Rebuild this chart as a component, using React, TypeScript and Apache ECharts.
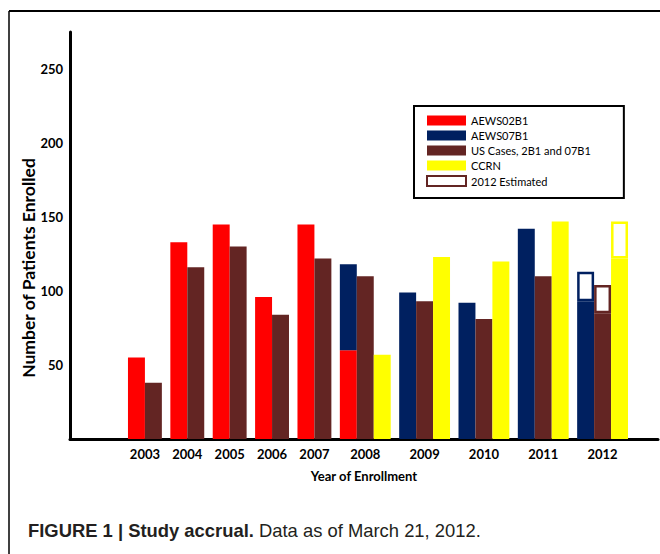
import React, { useEffect, useRef } from 'react';
import * as echarts from 'echarts';

const years = ['2003', '2004', '2005', '2006', '2007', '2008', '2009', '2010', '2011', '2012'];
const aews02b1 = [55, 133, 145, 96, 145, 60, null, null, null, null];
const aews07b1 = [null, null, null, null, null, 58, 99, 92, 142, 93];
const usCases = [38, 116, 130, 84, 122, 110, 93, 81, 110, 85];
const ccrn = [null, null, null, null, null, 57, 123, 120, 147, 122];
const estAews07b1 = [null, null, null, null, null, null, null, null, null, 20];
const estUsCases = [null, null, null, null, null, null, null, null, null, 19];
const estCcrn = [null, null, null, null, null, null, null, null, null, 25];
const yTicks = [50, 100, 150, 200, 250];

const RED = '#ff0000';
const NAVY = '#002060';
const BROWN = '#632523';
const YELLOW = '#ffff00';
const FONT = 'Lato, "Open Sans", sans-serif';

export default function App() {
  const ref = useRef<HTMLDivElement>(null);
  useEffect(() => {
    document.body.style.margin = '0';
    const chart = echarts.init(ref.current!, null, { renderer: 'svg' });

    // group layout derived from number of bars per year
    const starts: number[] = [];
    const centers: number[] = [];
    let cursor = 0;
    years.forEach((_, i) => {
      const slots = ccrn[i] != null ? 3 : 2;
      starts.push(cursor);
      centers.push(cursor + slots / 2);
      cursor += slots + 0.5;
    });

    const d02: any[] = [];
    const d07: any[] = [];
    const dUs: any[] = [];
    const dCc: any[] = [];
    const dEst: any[] = [];
    years.forEach((_, i) => {
      const s = starts[i];
      let base = 0;
      if (aews02b1[i] != null) {
        d02.push([s, 0, aews02b1[i]]);
        base = aews02b1[i] as number;
      }
      if (aews07b1[i] != null) {
        d07.push([s, base, base + (aews07b1[i] as number)]);
        if (estAews07b1[i] != null) {
          const t = base + (aews07b1[i] as number);
          dEst.push([s, t, t + (estAews07b1[i] as number), 0]);
        }
      }
      dUs.push([s + 1, 0, usCases[i]]);
      if (estUsCases[i] != null) dEst.push([s + 1, usCases[i], usCases[i] + (estUsCases[i] as number), 1]);
      if (ccrn[i] != null) {
        dCc.push([s + 2, 0, ccrn[i]]);
        if (estCcrn[i] != null) dEst.push([s + 2, ccrn[i], (ccrn[i] as number) + (estCcrn[i] as number), 2]);
      }
    });

    const estColors = [NAVY, BROWN, YELLOW];
    const solid = (color: string) => (params: any, api: any) => {
      const x0 = api.value(0), yb = api.value(1), yt = api.value(2);
      const a = api.coord([x0, yt]);
      const b = api.coord([x0 + 1, yb]);
      return { type: 'rect', shape: { x: a[0], y: a[1], width: b[0] - a[0], height: b[1] - a[1] }, style: { fill: color } };
    };
    const outline = (params: any, api: any) => {
      const x0 = api.value(0), yb = api.value(1), yt = api.value(2);
      const c = estColors[api.value(3)];
      const a = api.coord([x0, yt]);
      const b = api.coord([x0 + 1, yb]);
      const lw = 2.5;
      return {
        type: 'rect',
        shape: { x: a[0] + lw / 2, y: a[1] + lw / 2, width: b[0] - a[0] - lw, height: b[1] - a[1] - lw },
        style: { fill: '#ffffff', stroke: c, lineWidth: lw },
      };
    };

    const mk = (name: string, data: any[], color: string, render: any) => ({
      type: 'custom',
      name,
      data,
      encode: { x: 0, y: [1, 2] },
      itemStyle: { color },
      renderItem: render,
    });

    chart.setOption({
      animation: false,
      grid: { left: 70, right: 2, top: 32, bottom: 115 },
      xAxis: {
        type: 'value',
        min: -3.42,
        max: 31.27,
        name: 'Year of Enrollment',
        nameLocation: 'middle',
        nameGap: 30,
        nameTextStyle: { fontFamily: FONT, fontWeight: 'bold', fontSize: 13, color: '#000' },
        axisLine: { show: true, onZero: false, lineStyle: { color: '#000', width: 3 } },
        axisTick: { show: false },
        splitLine: { show: false },
        axisLabel: {
          customValues: centers,
          margin: 8,
          fontFamily: FONT,
          fontWeight: 'bold',
          fontSize: 13,
          color: '#000',
          formatter: (v: number) => {
            let best = 0;
            centers.forEach((c, i) => { if (Math.abs(c - v) < Math.abs(centers[best] - v)) best = i; });
            return years[best];
          },
        },
      },
      yAxis: {
        type: 'value',
        min: 0,
        max: 275,
        interval: 50,
        axisLine: { show: true, onZero: false, lineStyle: { color: '#000', width: 3 } },
        axisTick: { show: false },
        splitLine: { show: false },
        axisLabel: {
          customValues: yTicks,
          margin: 7,
          fontFamily: FONT,
          fontWeight: 'bold',
          fontSize: 13,
          color: '#000',
        },
      },
      legend: {
        orient: 'vertical',
        left: 414,
        top: 106,
        padding: [9, 33, 11, 12],
        borderColor: '#000',
        borderWidth: 2,
        itemWidth: 39,
        itemHeight: 10,
        itemGap: 4,
        selectedMode: false,
        textStyle: { fontFamily: FONT, fontSize: 11, color: '#000' },
        data: [
          { name: 'AEWS02B1', icon: 'rect', itemStyle: { color: RED } },
          { name: 'AEWS07B1', icon: 'rect', itemStyle: { color: NAVY } },
          { name: 'US Cases, 2B1 and 07B1', icon: 'rect', itemStyle: { color: BROWN } },
          { name: 'CCRN', icon: 'rect', itemStyle: { color: YELLOW } },
          { name: '2012 Estimated', icon: 'rect', itemStyle: { color: '#ffffff', borderColor: BROWN, borderWidth: 2 } },
        ],
      },
      graphic: [
        { type: 'line', shape: { x1: 9, y1: 11, x2: 660, y2: 11 }, style: { stroke: '#000', lineWidth: 2 } },
        { type: 'line', shape: { x1: 9, y1: 11, x2: 9, y2: 554 }, style: { stroke: '#000', lineWidth: 1.5 } },
        {
          type: 'text',
          x: 28,
          y: 268,
          rotation: Math.PI / 2,
          style: {
            text: 'Number of Patients Enrolled',
            fontFamily: FONT,
            fontWeight: 'bold',
            fontSize: 17.5,
            fill: '#000',
            align: 'center',
            verticalAlign: 'middle',
          },
        },
        {
          type: 'text',
          x: 28,
          y: 530,
          style: {
            text: '{b|FIGURE 1 | Study accrual.}{r| Data as of March 21, 2012.}',
            verticalAlign: 'middle',
            rich: {
              b: { fontFamily: '"Liberation Sans", Arial, sans-serif', fontWeight: 'bold', fontSize: 18.4, fill: '#231f20', color: '#231f20' },
              r: { fontFamily: '"Liberation Sans", Arial, sans-serif', fontSize: 18.4, fill: '#231f20', color: '#231f20' },
            },
          },
        },
      ],
      series: [
        mk('AEWS02B1', d02, RED, solid(RED)),
        mk('AEWS07B1', d07, NAVY, solid(NAVY)),
        mk('US Cases, 2B1 and 07B1', dUs, BROWN, solid(BROWN)),
        mk('CCRN', dCc, YELLOW, solid(YELLOW)),
        mk('2012 Estimated', dEst, BROWN, outline),
      ],
    });
    return () => chart.dispose();
  }, []);
  return <div ref={ref} style={{ width: 660, height: 554 }} />;
}
